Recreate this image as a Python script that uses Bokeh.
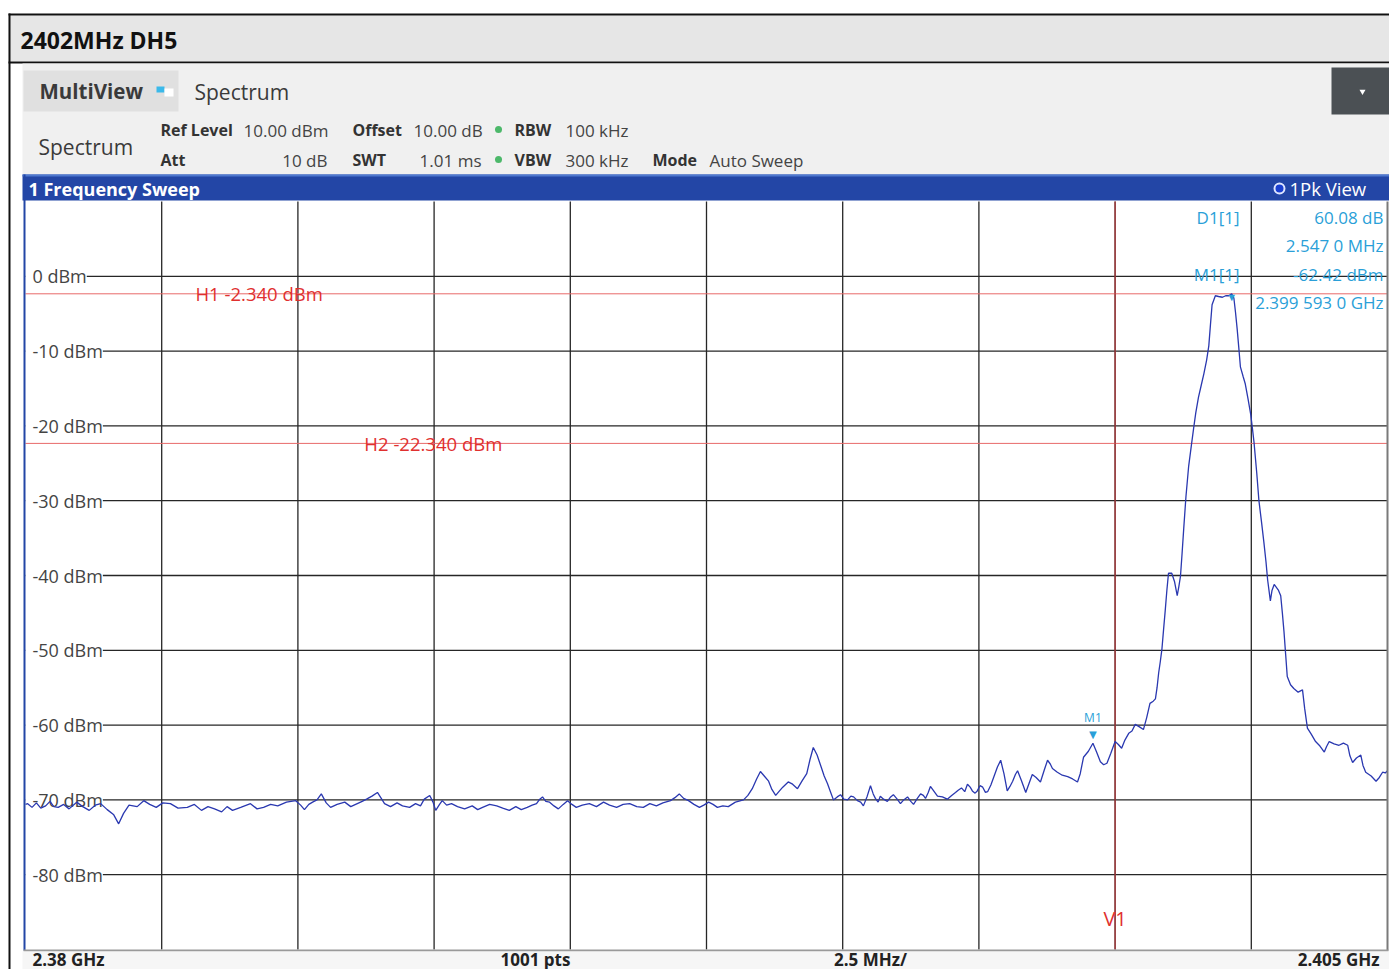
from bokeh.plotting import figure
from bokeh.models import Range1d
from bokeh.core.properties import value
from bokeh.embed import file_html
from bokeh.resources import INLINE

# ---------------- data ----------------
freq_mhz = [
    2380.00, 2380.04, 2380.12, 2380.20, 2380.28, 2380.37, 2380.45, 2380.52, 2380.60, 2380.70,
    2380.80, 2380.94, 2381.05, 2381.17, 2381.28, 2381.38, 2381.50, 2381.62, 2381.71, 2381.80,
    2381.90, 2382.05, 2382.17, 2382.28, 2382.40, 2382.52, 2382.66, 2382.80, 2382.97, 2383.10,
    2383.23, 2383.35, 2383.47, 2383.60, 2383.70, 2383.80, 2383.95, 2384.13, 2384.25, 2384.37,
    2384.50, 2384.63, 2384.79, 2384.96, 2385.05, 2385.12, 2385.20, 2385.27, 2385.35, 2385.43,
    2385.52, 2385.60, 2385.72, 2385.86, 2385.97, 2386.09, 2386.18, 2386.26, 2386.36, 2386.46,
    2386.53, 2386.59, 2386.70, 2386.82, 2386.92, 2387.05, 2387.16, 2387.25, 2387.32, 2387.42,
    2387.48, 2387.53, 2387.60, 2387.65, 2387.73, 2387.82, 2387.93, 2388.06, 2388.20, 2388.30,
    2388.39, 2388.52, 2388.65, 2388.76, 2388.88, 2389.00, 2389.10, 2389.21, 2389.30, 2389.38,
    2389.44, 2389.49, 2389.55, 2389.62, 2389.70, 2389.78, 2389.87, 2389.95, 2390.03, 2390.11,
    2390.22, 2390.35, 2390.48, 2390.61, 2390.72, 2390.85, 2390.97, 2391.09, 2391.22, 2391.34,
    2391.46, 2391.58, 2391.70, 2391.84, 2391.92, 2392.00, 2392.08, 2392.17, 2392.27, 2392.37,
    2392.45, 2392.54, 2392.62, 2392.70, 2392.80, 2392.90, 2393.03, 2393.18, 2393.26, 2393.34,
    2393.42, 2393.49, 2393.56, 2393.64, 2393.70, 2393.77, 2393.84, 2393.90, 2394.00, 2394.08,
    2394.17, 2394.26, 2394.34, 2394.40, 2394.46, 2394.53, 2394.60, 2394.66, 2394.72, 2394.78,
    2394.83, 2394.90, 2394.96, 2395.02, 2395.09, 2395.15, 2395.20, 2395.27, 2395.33, 2395.38,
    2395.45, 2395.51, 2395.56, 2395.60, 2395.65, 2395.69, 2395.75, 2395.82, 2395.88, 2395.93,
    2396.00, 2396.06, 2396.12, 2396.19, 2396.25, 2396.30, 2396.37, 2396.43, 2396.48, 2396.52,
    2396.57, 2396.61, 2396.68, 2396.74, 2396.83, 2396.92, 2397.00, 2397.07, 2397.12, 2397.18,
    2397.24, 2397.29, 2397.34, 2397.38, 2397.43, 2397.47, 2397.52, 2397.57, 2397.62, 2397.66,
    2397.72, 2397.77, 2397.84, 2397.90, 2397.96, 2398.02, 2398.07, 2398.12, 2398.17, 2398.21,
    2398.28, 2398.36, 2398.42, 2398.48, 2398.55, 2398.63, 2398.70, 2398.76, 2398.81, 2398.85,
    2398.94, 2399.03, 2399.13, 2399.22, 2399.31, 2399.36, 2399.42, 2399.51, 2399.593, 2399.66,
    2399.73, 2399.79, 2399.85, 2399.92, 2400.00, 2400.06, 2400.12, 2400.18, 2400.25, 2400.31,
    2400.37, 2400.44, 2400.52, 2400.58, 2400.64, 2400.70, 2400.74, 2400.77, 2400.80, 2400.83,
    2400.86, 2400.89, 2400.92, 2400.95, 2400.98, 2401.04, 2401.09, 2401.14, 2401.17, 2401.20,
    2401.23, 2401.26, 2401.30, 2401.35, 2401.40, 2401.44, 2401.48, 2401.53, 2401.58, 2401.63,
    2401.68, 2401.72, 2401.75, 2401.78, 2401.84, 2401.90, 2401.97, 2402.03, 2402.09, 2402.14,
    2402.18, 2402.21, 2402.24, 2402.27, 2402.30, 2402.35, 2402.39, 2402.44, 2402.49, 2402.52,
    2402.55, 2402.60, 2402.64, 2402.69, 2402.73, 2402.77, 2402.80, 2402.85, 2402.88, 2402.92,
    2402.95, 2403.00, 2403.04, 2403.07, 2403.10, 2403.13, 2403.16, 2403.22, 2403.28, 2403.36,
    2403.44, 2403.48, 2403.53, 2403.60, 2403.68, 2403.76, 2403.84, 2403.88, 2403.93, 2404.02,
    2404.11, 2404.19, 2404.27, 2404.31, 2404.36, 2404.43, 2404.51, 2404.55, 2404.60, 2404.70,
    2404.79, 2404.85, 2404.91, 2404.96, 2405.00,
]
level_dbm = [
    -70.6, -70.5, -71.0, -70.4, -71.1, -70.8, -70.2, -70.9, -71.0, -70.6,
    -71.2, -70.3, -70.9, -71.4, -70.7, -70.5, -71.3, -72.0, -73.2, -71.8,
    -70.7, -70.9, -70.1, -70.6, -71.0, -70.4, -70.5, -71.1, -71.0, -70.6,
    -71.4, -70.9, -71.2, -71.6, -70.9, -71.4, -71.0, -70.5, -71.2, -71.0,
    -70.6, -70.8, -70.3, -70.1, -70.7, -71.3, -70.6, -70.3, -70.0, -69.2,
    -70.4, -71.0, -70.6, -70.3, -70.9, -70.5, -70.2, -69.9, -69.5, -69.0,
    -69.8, -70.5, -70.9, -70.4, -70.8, -71.0, -70.5, -70.8, -69.9, -69.4,
    -70.3, -71.4, -70.6, -70.1, -70.7, -70.5, -70.9, -71.2, -70.8, -71.3,
    -71.0, -70.6, -70.8, -71.1, -71.4, -70.9, -71.3, -71.0, -70.7, -70.5,
    -69.9, -69.6, -70.2, -70.3, -70.8, -71.2, -70.6, -70.1, -70.6, -71.0,
    -70.7, -70.5, -70.9, -70.3, -70.7, -71.0, -70.6, -70.5, -70.9, -71.0,
    -70.5, -70.8, -70.4, -70.1, -69.7, -69.2, -69.8, -70.1, -70.6, -71.0,
    -70.7, -70.3, -70.6, -71.0, -70.8, -70.9, -70.3, -70.0, -69.4, -68.5,
    -67.2, -66.2, -66.8, -67.5, -68.6, -69.4, -68.8, -68.3, -67.6, -67.9,
    -68.5, -67.4, -66.5, -64.6, -63.0, -64.0, -65.5, -66.8, -67.8, -69.0,
    -70.0, -69.6, -69.3, -69.9, -70.0, -69.5, -69.6, -70.1, -70.3, -70.8,
    -69.5, -68.1, -69.2, -69.8, -70.3, -69.5, -69.9, -70.2, -69.6, -69.3,
    -69.9, -70.5, -70.0, -69.6, -70.2, -70.6, -69.8, -69.2, -69.4, -69.8,
    -69.0, -68.2, -68.9, -69.5, -69.6, -69.9, -69.4, -69.0, -68.7, -68.4,
    -68.9, -67.9, -68.3, -68.8, -69.1, -68.8, -68.1, -68.3, -69.0, -68.9,
    -68.0, -67.0, -65.6, -64.7, -66.5, -68.8, -68.2, -67.5, -66.6, -66.1,
    -67.4, -69.0, -67.8, -66.6, -67.0, -67.6, -66.0, -64.7, -65.2, -65.8,
    -66.3, -66.7, -66.9, -67.2, -67.6, -66.5, -64.3, -63.5, -62.42, -63.6,
    -64.9, -65.3, -65.1, -63.8, -62.2, -62.6, -63.1, -62.0, -61.1, -60.8,
    -59.9, -60.2, -60.6, -59.0, -57.1, -56.8, -56.5, -55.0, -53.0, -51.5,
    -49.8, -47.2, -44.7, -42.0, -39.7, -39.7, -40.8, -42.7, -41.5, -40.1,
    -37.0, -33.7, -29.5, -25.4, -22.6, -20.4, -18.3, -16.2, -14.6, -13.0,
    -11.2, -9.3, -6.5, -3.8, -2.6, -2.7, -2.8, -2.6, -2.6, -2.34,
    -2.9, -4.8, -7.0, -9.5, -12.1, -13.4, -14.4, -16.4, -18.5, -20.3,
    -22.2, -26.3, -30.0, -33.0, -35.5, -38.2, -40.6, -43.4, -42.0, -41.2,
    -41.5, -42.0, -42.7, -45.0, -47.5, -50.5, -53.5, -54.6, -55.1, -55.6,
    -55.3, -57.8, -60.4, -61.2, -62.2, -62.8, -63.6, -62.9, -62.2, -62.5,
    -62.7, -62.4, -62.7, -64.1, -65.0, -64.4, -64.0, -65.4, -66.3, -66.8,
    -67.5, -67.0, -66.3, -66.4, -66.1,
]

x_grid_mhz = [2382.5, 2385.0, 2387.5, 2390.0, 2392.5, 2395.0, 2397.5, 2400.0, 2402.5]
y_grid_dbm = [0, -10, -20, -30, -40, -50, -60, -70, -80]
y_label_dbm = [0, -10, -20, -30, -40, -50, -60, -70, -80]
y_label_text = ["0 dBm", "-10 dBm", "-20 dBm", "-30 dBm", "-40 dBm", "-50 dBm", "-60 dBm", "-70 dBm", "-80 dBm"]

x_min, x_max = 2380.0, 2405.0
y_min, y_max = -90.0, 10.0

h_lines_dbm = [-2.34, -22.34]
h_lines_text = ["H1 -2.340 dBm", "H2 -22.340 dBm"]
h_label_mhz = [2383.12, 2386.22]
v1_mhz = 2400.0
m1_mhz, m1_dbm = 2399.593, -62.42
d1_offset_mhz, d1_delta_db = 2.547, 60.08

marker_names = ["D1[1]", "M1[1]"]
marker_values = ["60.08 dB", "2.547 0 MHz", "-62.42 dBm", "2.399 593 0 GHz"]

footer_text = ["2.38 GHz", "1001 pts", "2.5 MHz/", "2.405 GHz"]

# ---------------- geometry (page pixels) ----------------
W, H = 1389, 969
FL, FR, FT, FB = 25, 1387, 201, 949   # plot area
sx = (FR - FL) / (x_max - x_min)
sy = (FB - FT) / (y_max - y_min)
xr = Range1d(x_min - FL / sx, x_max + (W - FR) / sx)
yr = Range1d(y_min - (H - FB) / sy, y_max + FT / sy)

p = figure(width=W, height=H, x_range=xr, y_range=yr, output_backend="svg",
           toolbar_location=None, min_border=0, x_axis_type=None, y_axis_type=None)
p.outline_line_color = None
p.background_fill_color = "white"
p.border_fill_color = "white"
p.xgrid.visible = False
p.ygrid.visible = False
p.extra_x_ranges = {"px": Range1d(0, W)}
p.extra_y_ranges = {"px": Range1d(H, 0)}
PX = dict(x_range_name="px", y_range_name="px")

UI = value("Open Sans")
GRID = "#262626"

# ---------------- grid ----------------
p.segment(x0=x_grid_mhz, x1=x_grid_mhz, y0=[y_min] * len(x_grid_mhz), y1=[y_max] * len(x_grid_mhz),
          line_color=GRID, line_width=1.3)
p.segment(x0=[x_min] * len(y_grid_dbm), x1=[x_max] * len(y_grid_dbm), y0=y_grid_dbm, y1=y_grid_dbm,
          line_color=GRID, line_width=1.3)

# display lines
p.segment(x0=[x_min] * 2, x1=[x_max] * 2, y0=h_lines_dbm, y1=h_lines_dbm, line_color="#e86a6a", line_width=1)
p.segment(x0=[v1_mhz], x1=[v1_mhz], y0=[y_min], y1=[y_max], line_color="#b8393b", line_width=1.2)

# y labels (white box hides the grid; the trace is drawn later, on top)
p.text(x=[x_min] * len(y_label_dbm), y=y_label_dbm, text=y_label_text, x_offset=0,
       text_font=UI, text_font_size="18px", text_color="#444444", text_align="left",
       text_baseline="middle", background_fill_color="white", border_line_color=None,
       padding={"left": 7, "right": 0, "top": 1, "bottom": 1})

p.text(x=h_label_mhz, y=h_lines_dbm, text=h_lines_text, text_font=UI, text_font_size="18.5px",
       text_color="#e0302f", text_align="left", text_baseline="middle")
p.text(x=[v1_mhz], y=[y_min], text=["V1"], y_offset=-31, text_font=UI, text_font_size="20px",
       text_color="#e0302f", text_align="center", text_baseline="middle")

# ---------------- trace ----------------
p.line(freq_mhz, level_dbm, line_color="#2a38b0", line_width=1.3)

# markers
MK = "#2a9fd8"
p.text(x=[m1_mhz], y=[m1_dbm], text=["\u25bc"], y_offset=0, text_font=UI, text_font_size="13px",
       text_color=MK, text_align="center", text_baseline="bottom")
p.text(x=[m1_mhz], y=[m1_dbm], text=["M1"], y_offset=-17, text_font=UI, text_font_size="12px",
       text_color=MK, text_align="center", text_baseline="bottom")
p.text(x=[m1_mhz + d1_offset_mhz], y=[m1_dbm + d1_delta_db], text=["\u25bc"], y_offset=3, text_font=UI,
       text_font_size="11px", text_color=MK, text_align="center", text_baseline="middle")

# marker table
p.text(x=[1239, 1239], y=[217, 274], text=marker_names, text_font=UI, text_font_size="17px",
       text_color=MK, text_align="right", text_baseline="middle", **PX)
p.text(x=[1383] * 4, y=[217, 245, 274, 302], text=marker_values, text_font=UI, text_font_size="17px",
       text_color=MK, text_align="right", text_baseline="middle", **PX)

# ---------------- frame / header decorations (page px) ----------------
def box(l, r, t, b, c):
    p.quad(left=[l], right=[r], top=[t], bottom=[b], fill_color=c, line_color=None, **PX)

box(8, W, 15, 61, "#e6e6e6")          # title bar
box(8, W, 13, 15, "#111111")
box(8, W, 61, 63, "#111111")
box(22, W, 63, 174, "#f0f0f0")        # instrument header
box(23, 178, 70, 111, "#e0e0e0")      # MultiView tab
box(156, 164, 86, 92, "#3bb9ea")
box(164, 173, 88, 96, "#ffffff")
box(1331, W, 67, 114, "#4b5054")      # menu button
box(22, W, 174, 200, "#2346a6")       # diagram title bar
box(22, W, 174, 176, "#4f79cf")
box(23, FL, 174, FB + 1, "#2346a6")   # left blue border
box(FR - 1, FR + 1, FT, FB + 1, "#7a7a7a")
box(23, FR + 1, FB, FB + 2, "#9a9a9a")
box(22, W, FB + 2, H, "#f6f6f6")      # footer strip
box(8, 10, 13, H, "#111111")          # outer frame left

p.scatter(x=[1362], y=[91], marker="inverted_triangle", size=6, fill_color="white", line_color=None, **PX)
p.scatter(x=[498, 498], y=[129, 159], marker="circle", size=7, fill_color="#4cb86a", line_color=None, **PX)
p.scatter(x=[1279], y=[188], marker="circle", size=10, fill_color="#1a3fd0", line_color="#dfe6ff",
          line_width=2, **PX)

# texts
p.text(x=[20], y=[39], text=["2402MHz DH5"], text_font=UI, text_font_size="23px", text_font_style="bold",
       text_color="#111111", text_baseline="middle", **PX)
p.text(x=[39], y=[90], text=["MultiView"], text_font=UI, text_font_size="20.5px", text_font_style="bold",
       text_color="#3a3a3a", text_baseline="middle", **PX)
p.text(x=[194, 38], y=[91, 146], text=["Spectrum", "Spectrum"], text_font=UI, text_font_size="21px",
       text_color="#3a3a3a", text_baseline="middle", **PX)

bold_lbl = ["Ref Level", "Offset", "RBW", "Att", "SWT", "VBW", "Mode"]
bold_x = [160, 352, 514, 160, 352, 514, 652]
bold_y = [129, 129, 129, 159, 159, 159, 159]
p.text(x=bold_x, y=bold_y, text=bold_lbl, text_font=UI, text_font_size="16px", text_font_style="bold",
       text_color="#333333", text_baseline="middle", **PX)
norm_lbl = ["10.00 dBm", "10.00 dB", "100 kHz", "300 kHz", "Auto Sweep"]
norm_x = [243, 413, 565, 565, 709]
norm_y = [130, 130, 130, 160, 160]
p.text(x=norm_x, y=norm_y, text=norm_lbl, text_font=UI, text_font_size="17px",
       text_color="#444444", text_baseline="middle", **PX)
p.text(x=[327, 481], y=[160, 160], text=["10 dB", "1.01 ms"], text_font=UI, text_font_size="17px",
       text_color="#444444", text_baseline="middle", text_align="right", **PX)

p.text(x=[28], y=[188], text=["1 Frequency Sweep"], text_font=UI, text_font_size="18px", text_font_style="bold",
       text_color="white", text_baseline="middle", **PX)
p.text(x=[1289], y=[188], text=["1Pk View"], text_font=UI, text_font_size="18.5px",
       text_color="white", text_baseline="middle", **PX)

p.text(x=[32, 535, 870, 1379], y=[959] * 4, text=footer_text, text_font=UI, text_font_size="17px",
       text_font_style="bold", text_color="#222222", text_baseline="middle",
       text_align=["left", "center", "center", "right"], **PX)

open("out.html", "w").write(file_html(p, INLINE))
